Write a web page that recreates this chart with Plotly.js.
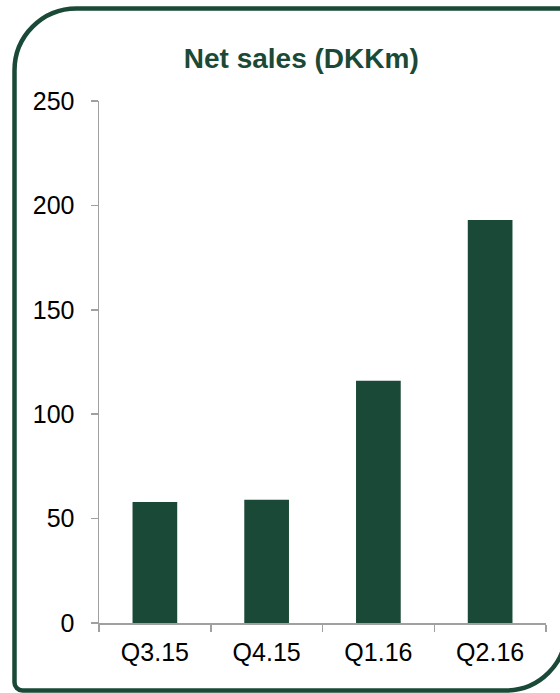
<!DOCTYPE html>
<html>
<head>
<meta charset="utf-8">
<script src="https://cdn.plot.ly/plotly-3.0.1.min.js"></script>
<style>html,body{margin:0;padding:0;background:#fff;}#chart{width:560px;height:693px;}</style>
</head>
<body>
<div id="chart"></div>
<script>
var categories = ["Q3.15", "Q4.15", "Q1.16", "Q2.16"];
var netSales = [58, 59, 116, 193];
var yTickVals = [0, 50, 100, 150, 200, 250];

var green = "#1a4a37";
var W = 560, H = 693;
var L = 99, R = 14, T = 101, B = 70;
var pw = W - L - R, ph = H - T - B;
function px(x) { return ((x - L) / pw).toFixed(5); }
function py(y) { return ((H - B - y) / ph).toFixed(5); }
function P(x, y) { return px(x) + "," + py(y); }

// rounded frame around the chart (decoration)
var k = 0.552;
var lx = 14.5, ty = 8.5, rx = 566, by = 690.5;
var rTL = 62, rBR = 60, rBL = 8;
var path = "M" + P(lx, by - rBL) +
  " L" + P(lx, ty + rTL) +
  " C" + P(lx, ty + rTL - rTL * k) + " " + P(lx + rTL - rTL * k, ty) + " " + P(lx + rTL, ty) +
  " L" + P(rx, ty) +
  " L" + P(rx, by - rBR) +
  " C" + P(rx, by - rBR + rBR * k) + " " + P(rx - rBR + rBR * k, by) + " " + P(rx - rBR, by) +
  " L" + P(lx + rBL, by) +
  " C" + P(lx + rBL - rBL * k, by) + " " + P(lx, by - rBL + rBL * k) + " " + P(lx, by - rBL) +
  " Z";

var trace = {
  type: "bar",
  x: categories,
  y: netSales,
  marker: { color: green },
  hoverinfo: "x+y"
};

var font = "Liberation Sans, Arial, sans-serif";

var layout = {
  width: W, height: H,
  margin: { l: L, r: R, t: T, b: B, pad: 0 },
  paper_bgcolor: "#ffffff",
  plot_bgcolor: "#ffffff",
  showlegend: false,
  bargap: 0.6,
  title: {
    text: "<b>Net sales (DKKm)</b>",
    font: { family: font, size: 28, color: green },
    xref: "container", x: 0.538, xanchor: "center",
    yref: "container", y: 1 - 58 / H, yanchor: "middle"
  },
  xaxis: {
    type: "category",
    showline: true, linecolor: "#a0a0a0", linewidth: 1.5,
    ticks: "outside", tickson: "boundaries", ticklen: 7, tickcolor: "#a0a0a0", tickwidth: 1.5,
    ticklabelstandoff: 6,
    showgrid: false, zeroline: false,
    tickfont: { family: font, size: 25, color: "#000" }
  },
  yaxis: {
    range: [0, 250],
    tickvals: yTickVals,
    showline: true, linecolor: "#a0a0a0", linewidth: 1.5,
    ticks: "outside", ticklen: 7, tickcolor: "#a0a0a0", tickwidth: 1.5,
    ticklabelstandoff: 11,
    showgrid: false, zeroline: false,
    tickfont: { family: font, size: 25, color: "#000" }
  },
  shapes: [{
    type: "path", xref: "paper", yref: "paper", layer: "above",
    path: path,
    line: { color: green, width: 4.5 },
    fillcolor: "rgba(0,0,0,0)"
  }]
};

Plotly.newPlot("chart", [trace], layout, { displayModeBar: false, staticPlot: true });
</script>
</body>
</html>
